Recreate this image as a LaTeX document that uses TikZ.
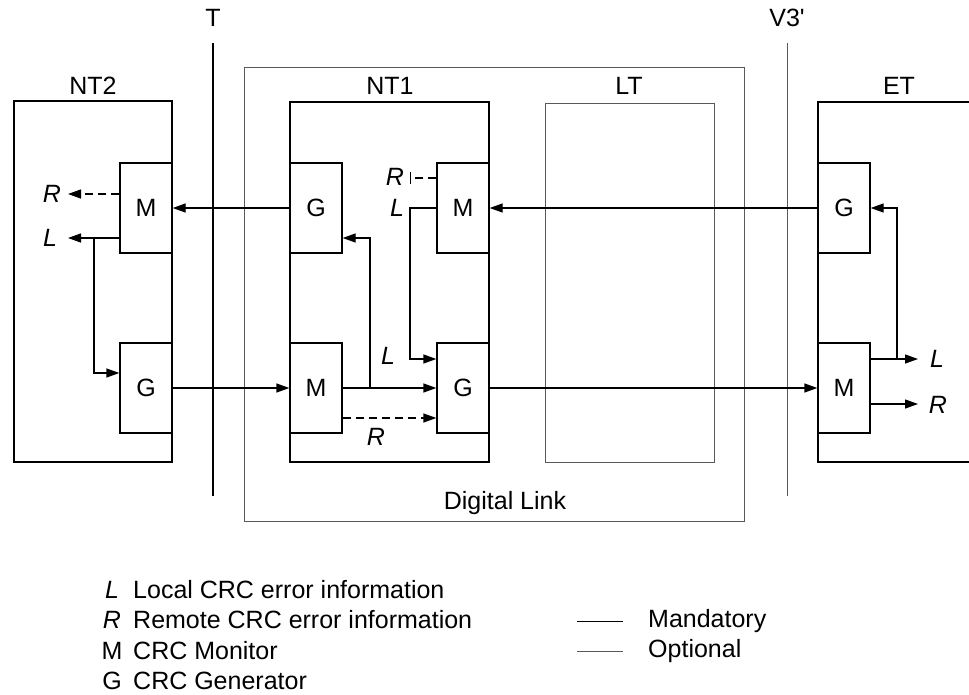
\documentclass[tikz,border=0pt]{standalone}
\usepackage{fontspec}
\setmainfont{Liberation Sans}
\usetikzlibrary{arrows.meta,calc}
\begin{document}
\begin{tikzpicture}[x=1pt,y=-1pt,
  font=\fontsize{25}{29}\selectfont,
  mand/.style={line width=1.3pt, draw=black},
  opt/.style={line width=1pt, draw=black!65},
  bigbox/.style={mand, minimum width=#1, inner sep=0pt},
  unit/.style={mand, fill=white, minimum width=52pt, minimum height=90pt, inner sep=0pt},
  arr/.style={mand, -{Triangle[length=13pt,width=9pt]}},
  dsh/.style={dash pattern=on 8pt off 5pt},
  lab/.style={inner sep=0pt, font=\fontsize{25}{29}\selectfont\itshape},
  txt/.style={inner sep=0pt}]
\useasboundingbox (0,0) rectangle (969,694);
% reference lines
\node[txt] (Tl) at (213,18) {T};
\node[txt] (Vl) at (787,18) {V3\textquotesingle};
\coordinate (Ttop) at (213,43); \coordinate (Tbot) at (213,496);
\coordinate (Vtop) at (787,43); \coordinate (Vbot) at (787,496);
\draw[line width=1.1pt] (Ttop) -- (Tbot);
\draw[line width=0.9pt, black!65] (Vtop) -- (Vbot);
% big boxes
\node[opt, draw, minimum width=500pt, minimum height=454pt, inner sep=0pt] (DL) at (494,294) {};
\node[bigbox=158pt, draw, minimum height=361pt] (NT2) at (93,281.5) {};
\node[bigbox=199pt, draw, minimum height=360pt] (NT1) at (389.5,282) {};
\node[opt, draw, minimum width=169pt, minimum height=359pt, inner sep=0pt] (LT) at (629.5,282.5) {};
\coordinate (ETa) at (969,102); \coordinate (ETb) at (818,102);
\coordinate (ETc) at (818,462); \coordinate (ETd) at (969,462);
\draw[mand] (ETa) -- (ETb) -- (ETc) -- (ETd);
\node[txt] (NT2l) at (93,86) {NT2};
\node[txt] (NT1l) at (390,86) {NT1};
\node[txt] (LTl) at (629,86) {LT};
\node[txt] (ETl) at (899,86) {ET};
\node[txt] (DLl) at (505,503) {Digital Link};
% units
\node[unit] (nt2M) at (146,208) {M};
\node[unit] (nt2G) at (146,388) {G};
\node[unit] (nt1G) at (316,208) {G};
\node[unit] (nt1M) at (316,388) {M};
\node[unit] (nt1M2) at (463,208) {M};
\node[unit] (nt1G2) at (463,388) {G};
\node[unit] (etG) at (844,208) {G};
\node[unit] (etM) at (844,388) {M};
% main links
\draw[arr] (nt1G.west) -- (nt2M.east);
\draw[arr] (nt2G.east) -- (nt1M.west);
\draw[arr] (etG.west) -- (nt1M2.east);
\draw[arr] (nt1G2.east) -- (etM.west);
\draw[arr] (nt1M.east) -- (nt1G2.west);
% NT2
\coordinate (nR) at (68,194);
\coordinate (nL) at (68,238);
\coordinate (nJ) at (94,238);
\draw[arr, dsh] ($(nt2M.west)+(0,-14)$) -- (nR);
\draw[arr] ($(nt2M.west)+(0,30)$) -- (nL);
\draw[arr] (nJ) |- ($(nt2G.west)+(0,-15)$);
\node[lab] (nRl) at (52,194) {R};
\node[lab] (nLl) at (50,238) {L};
% NT1
\coordinate (j1) at (370,388);
\draw[arr] (j1) |- ($(nt1G.east)+(0,30)$);
\draw[arr, dsh] ($(nt1M.east)+(0,30)$) -- ($(nt1G2.west)+(0,30)$);
\node[lab] (n1R) at (376,437) {R};
\node[lab] (n1L) at (388,356) {L};
\coordinate (j2) at (410,208);
\draw[arr] (nt1M2.west) -- (j2) |- ($(nt1G2.west)+(0,-29)$);
\node[lab] (n2L) at (397,208) {L};
\coordinate (j3) at (410,178);
\draw[mand, dsh, -{Bar[width=12pt]}] ($(nt1M2.west)+(0,-30)$) -- (j3);
\node[lab] (n2R) at (395,177) {R};
% ET
\coordinate (eL) at (918,359);
\coordinate (eR) at (918,404);
\coordinate (j4) at (897,359);
\draw[arr] ($(etM.east)+(0,-29)$) -- (eL);
\draw[arr] ($(etM.east)+(0,16)$) -- (eR);
\draw[arr] (j4) |- (etG.east);
\node[lab] (eLl) at (937,359) {L};
\node[lab] (eRl) at (938,405) {R};
% legend
\node[lab] (k1) at (112,590) {L};
\node[txt, anchor=west] (k1t) at (133,590) {Local CRC error information};
\node[lab] (k2) at (112,620) {R};
\node[txt, anchor=west] (k2t) at (133,620) {Remote CRC error information};
\node[txt] (k3) at (112,651) {M};
\node[txt, anchor=west] (k3t) at (133,651) {CRC Monitor};
\node[txt] (k4) at (112,681) {G};
\node[txt, anchor=west] (k4t) at (133,681) {CRC Generator};
\coordinate (m1) at (577,621); \coordinate (m2) at (623,621);
\coordinate (o1) at (577,651); \coordinate (o2) at (623,651);
\draw[line width=1pt] (m1) -- (m2);
\draw[opt] (o1) -- (o2);
\node[txt, anchor=west] (mt) at (648,621) {Mandatory};
\node[txt, anchor=west] (ot) at (648,651) {Optional};
\end{tikzpicture}
\end{document}
